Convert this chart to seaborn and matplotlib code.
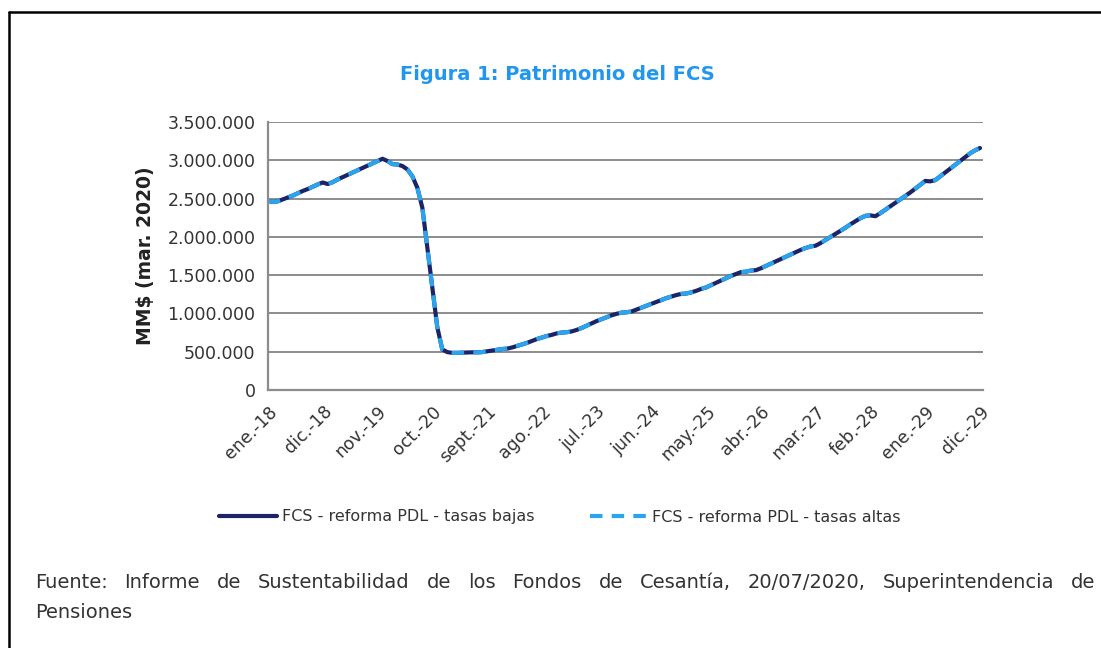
import numpy as np
import pandas as pd
import matplotlib
matplotlib.use("Agg")
import matplotlib.pyplot as plt
from matplotlib.lines import Line2D
from matplotlib.ticker import FuncFormatter
import seaborn as sns

# patrimonio mensual ene-2018 .. dic-2029, en miles de MM$
patrimonio_2018 = [2470, 2455, 2465, 2490, 2515, 2540, 2570, 2600, 2625, 2655, 2685, 2710]
patrimonio_2019 = [2690, 2715, 2750, 2780, 2810, 2840, 2870, 2900, 2930, 2960, 2990, 3020]
patrimonio_2020 = [2990, 2950, 2945, 2925, 2880, 2790, 2640, 2380, 1860, 1340, 820, 530]
patrimonio_2021 = [495, 485, 485, 488, 490, 492, 492, 495, 505, 515, 525, 535]
patrimonio_2022 = [540, 555, 575, 595, 615, 640, 665, 685, 705, 720, 740, 750]
patrimonio_2023 = [755, 765, 785, 810, 840, 870, 900, 925, 950, 975, 995, 1010]
patrimonio_2024 = [1015, 1025, 1050, 1075, 1100, 1125, 1150, 1175, 1200, 1220, 1240, 1255]
patrimonio_2025 = [1260, 1275, 1295, 1320, 1340, 1370, 1400, 1430, 1460, 1490, 1515, 1540]
patrimonio_2026 = [1545, 1560, 1565, 1590, 1620, 1650, 1680, 1710, 1740, 1770, 1800, 1830]
patrimonio_2027 = [1855, 1875, 1885, 1920, 1960, 2000, 2040, 2080, 2120, 2165, 2205, 2245]
patrimonio_2028 = [2275, 2280, 2270, 2310, 2355, 2400, 2445, 2490, 2535, 2580, 2630, 2680]
patrimonio_2029 = [2730, 2725, 2740, 2790, 2840, 2890, 2940, 2990, 3040, 3090, 3130, 3160]

tasas_bajas = (patrimonio_2018 + patrimonio_2019 + patrimonio_2020 + patrimonio_2021
               + patrimonio_2022 + patrimonio_2023 + patrimonio_2024 + patrimonio_2025
               + patrimonio_2026 + patrimonio_2027 + patrimonio_2028 + patrimonio_2029)
# ambos escenarios se superponen en el grafico
tasas_altas = list(tasas_bajas)

tick_labels = ["ene.-18", "dic.-18", "nov.-19", "oct.-20", "sept.-21", "ago.-22", "jul.-23",
               "jun.-24", "may.-25", "abr.-26", "mar.-27", "feb.-28", "ene.-29", "dic.-29"]

serie_bajas = "FCS - reforma PDL - tasas bajas"
serie_altas = "FCS - reforma PDL - tasas altas"

fuente_1 = "Fuente: Informe de Sustentabilidad de los Fondos de Cesantía, 20/07/2020, Superintendencia de"
fuente_2 = "Pensiones"

n = len(tasas_bajas)
df = pd.DataFrame({
    "mes": list(range(n)) * 2,
    "valor": [v * 1000 for v in tasas_bajas] + [v * 1000 for v in tasas_altas],
    "serie": [serie_bajas] * n + [serie_altas] * n,
})

sns.set_style("white")
plt.rcParams["font.family"] = ["DejaVu Sans"]

navy = "#1C2466"
celeste = "#2BA4F0"
gris = "#8C8C8C"
texto = "#333333"

W, H = 1101, 648
fig = plt.figure(figsize=(W / 100, H / 100), dpi=100)
ax = fig.add_axes([268 / W, 1 - 390 / H, (983 - 268) / W, (390 - 122) / H])

sns.lineplot(data=df, x="mes", y="valor", hue="serie", style="serie",
             palette={serie_bajas: navy, serie_altas: celeste},
             dashes={serie_bajas: "", serie_altas: (3, 2.2)},
             linewidth=3, ax=ax, legend=False)

ax.set_ylim(0, 3500000)
ax.set_xlim(0, n - 0.4)
ax.set_yticks(np.arange(0, 3500001, 500000))
ax.yaxis.set_major_formatter(FuncFormatter(lambda v, p: f"{int(v):,}".replace(",", ".")))
ax.set_xticks(np.arange(0, n, 11))
ax.set_xticklabels(tick_labels, rotation=45, ha="right", rotation_mode="anchor")
ax.grid(axis="y", color=gris, linewidth=1.4)
ax.set_axisbelow(True)
for s in ["top", "right"]:
    ax.spines[s].set_visible(False)
for s in ["left", "bottom"]:
    ax.spines[s].set_color(gris)
    ax.spines[s].set_linewidth(1.6)
ax.tick_params(axis="both", direction="out", length=5, width=1.4, color=gris,
               labelsize=12.5, labelcolor=texto, pad=4)
ax.set_xlabel("")
ax.set_ylabel("MM$ (mar. 2020)", fontsize=13.5, fontweight="bold", color="#222222", labelpad=9)

fig.text(557 / W, 1 - 75 / H, "Figura 1: Patrimonio del FCS", ha="center", va="center",
         fontsize=14, fontweight="bold", color="#2196EE")

handles = [Line2D([], [], color=navy, linewidth=3),
           Line2D([], [], color=celeste, linewidth=3, dashes=(3, 2.2))]
fig.legend(handles, [serie_bajas, serie_altas], loc="center", ncol=2,
           bbox_to_anchor=(560 / W, 1 - 517 / H), frameon=False,
           fontsize=11.5, handlelength=3.6, handletextpad=0.3, columnspacing=3.5,
           labelcolor=texto)

# texto de la fuente, justificado como en el original
palabras = [fig.text(0, 1 - 583 / H, w, ha="left", va="center", fontsize=14, color=texto)
            for w in fuente_1.split()]
fig.canvas.draw()
rend = fig.canvas.get_renderer()
anchos = [t.get_window_extent(rend).width for t in palabras]
x0, x1 = 35, 1095
hueco = (x1 - x0 - sum(anchos)) / (len(palabras) - 1)
x = x0
for t, a in zip(palabras, anchos):
    t.set_x(x / W)
    x += a + hueco
fig.text(x0 / W, 1 - 612 / H, fuente_2, ha="left", va="center", fontsize=14, color=texto)

# marco del recuadro
fig.add_artist(Line2D([9 / W, 9 / W], [0, 1 - 12 / H], transform=fig.transFigure,
                      color="black", linewidth=1.8))
fig.add_artist(Line2D([9 / W, 1], [1 - 12 / H, 1 - 12 / H], transform=fig.transFigure,
                      color="black", linewidth=1.8))

fig.savefig("out.png", dpi=100)
